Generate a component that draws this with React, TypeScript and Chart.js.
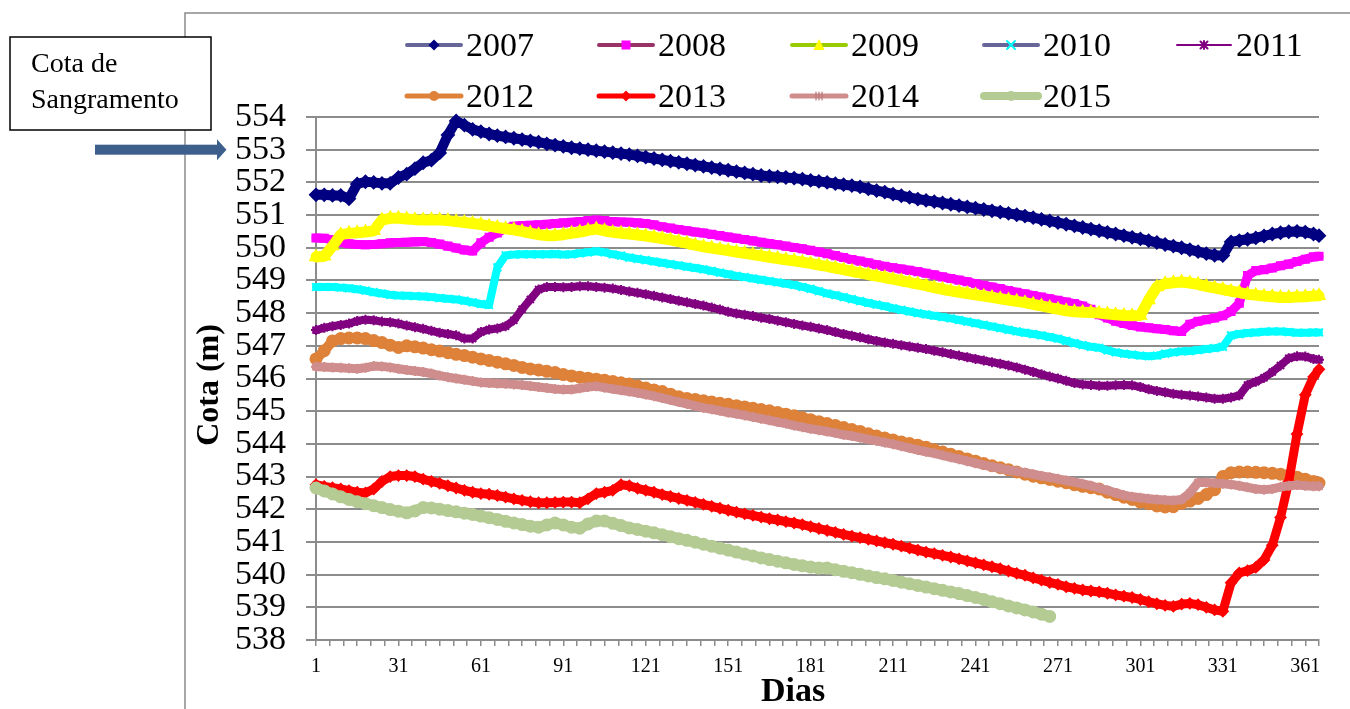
import { useEffect, useRef } from "react";
import { Chart, registerables } from "chart.js";

Chart.register(...registerables);

// Day of the year at which each reservoir level was sampled
const DAYS = [
  1, 4, 7, 10, 13, 16, 19, 22, 25, 28,
  31, 34, 37, 40, 43, 46, 49, 52, 55, 58,
  61, 64, 67, 70, 73, 76, 79, 82, 85, 88,
  91, 94, 97, 100, 103, 106, 109, 112, 115, 118,
  121, 124, 127, 130, 133, 136, 139, 142, 145, 148,
  151, 154, 157, 160, 163, 166, 169, 172, 175, 178,
  181, 184, 187, 190, 193, 196, 199, 202, 205, 208,
  211, 214, 217, 220, 223, 226, 229, 232, 235, 238,
  241, 244, 247, 250, 253, 256, 259, 262, 265, 268,
  271, 274, 277, 280, 283, 286, 289, 292, 295, 298,
  301, 304, 307, 310, 313, 316, 319, 322, 325, 328,
  331, 334, 337, 340, 343, 346, 349, 352, 355, 358,
  361, 364, 366,
];

const X_LABEL_DAYS = [1, 31, 61, 91, 121, 151, 181, 211, 241, 271, 301, 331, 361];
const Y_MIN = 538;
const Y_MAX = 554;

const YEARS = ["2007", "2008", "2009", "2010", "2011", "2012", "2013", "2014", "2015"];

// Water level (m) per year
const COTA_2007 = [
  551.62, 551.62, 551.6, 551.6, 551.5, 551.95, 552.02, 552.0, 551.97, 551.97,
  552.15, 552.25, 552.42, 552.6, 552.68, 552.9, 553.45, 553.88, 553.75, 553.62,
  553.55, 553.48, 553.43, 553.39, 553.35, 553.31, 553.27, 553.23, 553.18, 553.14,
  553.1, 553.06, 553.03, 553.0, 552.97, 552.94, 552.91, 552.88, 552.85, 552.81,
  552.77, 552.73, 552.69, 552.65, 552.61, 552.57, 552.53, 552.49, 552.45, 552.41,
  552.37, 552.33, 552.29, 552.25, 552.21, 552.19, 552.17, 552.15, 552.13, 552.1,
  552.06, 552.03, 552.0, 551.96, 551.93, 551.9, 551.86, 551.8, 551.75, 551.7,
  551.64, 551.59, 551.54, 551.49, 551.45, 551.41, 551.37, 551.33, 551.29, 551.25,
  551.21, 551.17, 551.13, 551.09, 551.05, 551.01, 550.97, 550.92, 550.87, 550.82,
  550.77, 550.72, 550.67, 550.62, 550.57, 550.52, 550.47, 550.42, 550.37, 550.32,
  550.27, 550.22, 550.16, 550.1, 550.05, 550.0, 549.94, 549.88, 549.82, 549.77,
  549.76, 550.18, 550.22, 550.26, 550.3, 550.36, 550.42, 550.46, 550.49, 550.5,
  550.48, 550.42, 550.37,
];

const COTA_2008 = [
  550.3, 550.29, 550.24, 550.16, 550.12, 550.1, 550.09, 550.1, 550.12, 550.15,
  550.16, 550.17, 550.18, 550.19, 550.16, 550.11, 550.05, 549.99, 549.93, 549.9,
  550.15, 550.32, 550.45, 550.6, 550.66, 550.68, 550.69, 550.7, 550.72, 550.74,
  550.76, 550.78, 550.8, 550.83, 550.85, 550.83, 550.8, 550.79, 550.78, 550.76,
  550.74, 550.7, 550.64, 550.6, 550.56, 550.52, 550.48, 550.45, 550.41, 550.37,
  550.33, 550.29, 550.25, 550.21, 550.17, 550.13, 550.09, 550.05, 550.01, 549.97,
  549.92, 549.87, 549.82, 549.76, 549.7, 549.64, 549.59, 549.54, 549.48, 549.43,
  549.39, 549.35, 549.31, 549.27, 549.22, 549.17, 549.11, 549.06, 549.01, 548.96,
  548.9, 548.85, 548.8, 548.75, 548.69, 548.64, 548.59, 548.54, 548.49, 548.44,
  548.39, 548.34, 548.29, 548.22, 548.12, 547.95, 547.85, 547.75, 547.68, 547.62,
  547.58, 547.55, 547.52, 547.5, 547.46, 547.44, 547.66, 547.75, 547.8, 547.85,
  547.92, 548.05, 548.3, 549.15, 549.3, 549.33, 549.38, 549.45, 549.5, 549.58,
  549.65, 549.72, 549.74,
];

const COTA_2009 = [
  549.72, 549.74, 550.05, 550.4, 550.44, 550.46, 550.48, 550.52, 550.85, 550.9,
  550.9, 550.88, 550.86, 550.85, 550.86, 550.85, 550.83, 550.8, 550.77, 550.74,
  550.71, 550.66, 550.62, 550.58, 550.55, 550.5, 550.45, 550.4, 550.37, 550.37,
  550.4, 550.44, 550.48, 550.53, 550.57, 550.52, 550.47, 550.44, 550.42, 550.39,
  550.36, 550.32, 550.28, 550.24, 550.19, 550.14, 550.08, 550.03, 549.99, 549.95,
  549.91, 549.87, 549.83, 549.79, 549.75, 549.71, 549.67, 549.63, 549.6, 549.56,
  549.52, 549.47, 549.43, 549.38, 549.33, 549.28, 549.23, 549.18, 549.13, 549.09,
  549.04, 548.99, 548.94, 548.89, 548.84, 548.78, 548.73, 548.68, 548.64, 548.6,
  548.56, 548.52, 548.48, 548.44, 548.4, 548.36, 548.32, 548.27, 548.22, 548.17,
  548.12, 548.07, 548.04, 548.03, 548.02, 548.0, 547.97, 547.95, 547.93, 547.92,
  547.93, 548.4, 548.8, 548.9, 548.93, 548.95, 548.92, 548.88, 548.82, 548.77,
  548.72, 548.67, 548.63, 548.58, 548.55, 548.52, 548.5, 548.48, 548.48, 548.49,
  548.5, 548.52, 548.53,
];

const COTA_2010 = [
  548.8, 548.8, 548.8, 548.78, 548.76, 548.73, 548.69, 548.64, 548.6, 548.56,
  548.54, 548.53, 548.52, 548.51, 548.49, 548.46, 548.44, 548.42, 548.38, 548.33,
  548.28, 548.25, 549.4, 549.77, 549.79, 549.8, 549.8, 549.8, 549.8, 549.81,
  549.79, 549.8, 549.83, 549.86, 549.89, 549.86, 549.8, 549.76, 549.7, 549.66,
  549.62, 549.58, 549.54, 549.5, 549.46, 549.42, 549.38, 549.34, 549.29, 549.24,
  549.19, 549.14, 549.1, 549.06, 549.02, 548.98, 548.94, 548.9, 548.86, 548.8,
  548.74, 548.67, 548.6, 548.55, 548.49, 548.43, 548.37, 548.31, 548.26, 548.21,
  548.15, 548.1, 548.05, 548.0, 547.96, 547.92, 547.88, 547.84, 547.79, 547.74,
  547.69, 547.64, 547.59, 547.54, 547.49, 547.44, 547.4, 547.36, 547.32, 547.27,
  547.22, 547.15, 547.08, 547.02, 546.97, 546.94, 546.86, 546.8, 546.76, 546.73,
  546.7, 546.68, 546.7, 546.76, 546.8, 546.83, 546.84, 546.87, 546.9, 546.93,
  546.97, 547.32, 547.36, 547.39, 547.41, 547.43, 547.44, 547.44, 547.42, 547.4,
  547.4, 547.41, 547.41,
];

const COTA_2011 = [
  547.48, 547.55, 547.6, 547.64, 547.68, 547.76, 547.8, 547.78, 547.74, 547.72,
  547.68, 547.62, 547.57, 547.52, 547.46, 547.4, 547.36, 547.32, 547.22, 547.22,
  547.42, 547.5, 547.53, 547.6, 547.78, 548.12, 548.42, 548.72, 548.8, 548.8,
  548.79, 548.8, 548.82, 548.82, 548.8, 548.78, 548.75, 548.71, 548.66, 548.62,
  548.58, 548.53, 548.48, 548.43, 548.38, 548.33, 548.28, 548.23, 548.17, 548.11,
  548.04, 547.99, 547.95, 547.91, 547.86, 547.82, 547.77, 547.72, 547.67, 547.62,
  547.58, 547.53, 547.48, 547.42, 547.36, 547.31, 547.26, 547.2, 547.15, 547.1,
  547.06, 547.02, 546.98, 546.94, 546.9, 546.85, 546.8, 546.75, 546.7, 546.65,
  546.6, 546.55, 546.5, 546.45, 546.4, 546.34, 546.27, 546.2, 546.13, 546.06,
  546.0, 545.93, 545.86, 545.82, 545.8, 545.78, 545.78, 545.79, 545.8, 545.79,
  545.74, 545.67, 545.62, 545.58, 545.53, 545.5, 545.48, 545.45, 545.42, 545.38,
  545.38, 545.42, 545.48, 545.8, 545.9, 546.02, 546.2, 546.4, 546.62, 546.68,
  546.67, 546.6, 546.57,
];

const COTA_2012 = [
  546.6, 546.85, 547.15, 547.22, 547.24, 547.24, 547.22, 547.16, 547.1, 547.02,
  546.95, 547.0, 546.97, 546.93, 546.88, 546.84, 546.79, 546.74, 546.7, 546.65,
  546.6, 546.55, 546.5, 546.45, 546.4, 546.34, 546.29, 546.26, 546.22, 546.18,
  546.12, 546.08, 546.04, 546.01, 545.98, 545.95, 545.91, 545.87, 545.83, 545.77,
  545.71, 545.65, 545.6, 545.52, 545.44, 545.39, 545.36, 545.32, 545.28, 545.24,
  545.21, 545.17, 545.13, 545.09, 545.05, 545.01, 544.96, 544.91, 544.86, 544.8,
  544.74, 544.68, 544.62, 544.56, 544.5, 544.44, 544.38, 544.31, 544.24, 544.18,
  544.12, 544.06, 544.01, 543.96, 543.9, 543.82, 543.75, 543.68, 543.61, 543.54,
  543.47, 543.4, 543.33, 543.27, 543.21, 543.14, 543.07, 543.01, 542.96, 542.91,
  542.86, 542.81, 542.75, 542.7, 542.66, 542.62, 542.52, 542.45, 542.37, 542.3,
  542.22, 542.17, 542.1, 542.07, 542.08, 542.18, 542.25, 542.33, 542.45, 542.6,
  543.0, 543.12, 543.14, 543.14, 543.13, 543.12, 543.1, 543.07, 543.04, 542.98,
  542.92, 542.85, 542.8,
];

const COTA_2013 = [
  542.75, 542.7, 542.66, 542.62, 542.57, 542.52, 542.5, 542.62, 542.85, 543.0,
  543.03, 543.03, 543.0, 542.92, 542.85, 542.79, 542.72, 542.65, 542.58, 542.52,
  542.48, 542.46, 542.42, 542.37, 542.32, 542.27, 542.23, 542.2, 542.2, 542.21,
  542.22, 542.22, 542.2, 542.32, 542.48, 542.52, 542.58, 542.75, 542.72, 542.64,
  542.58, 542.52, 542.45, 542.39, 542.33, 542.27, 542.21, 542.15, 542.09, 542.03,
  541.97, 541.91, 541.86, 541.81, 541.76, 541.71, 541.67, 541.62, 541.58, 541.53,
  541.47, 541.41, 541.35, 541.29, 541.23, 541.18, 541.13, 541.08, 541.03, 540.98,
  540.93, 540.87, 540.81, 540.75, 540.69, 540.64, 540.59, 540.54, 540.48, 540.42,
  540.36, 540.3, 540.24, 540.18, 540.11, 540.04, 539.98, 539.9, 539.83, 539.76,
  539.7, 539.63, 539.58, 539.53, 539.5, 539.47, 539.43, 539.38, 539.34, 539.3,
  539.24, 539.17, 539.11, 539.06, 539.03, 539.1, 539.12, 539.08, 539.0, 538.92,
  538.88, 539.75, 540.05, 540.12, 540.22, 540.45, 540.9, 541.75, 542.85, 544.3,
  545.5, 546.05, 546.28,
];

const COTA_2014 = [
  546.36, 546.35, 546.34, 546.33, 546.31, 546.3, 546.33, 546.38, 546.37, 546.34,
  546.3, 546.26, 546.23, 546.2, 546.15, 546.09, 546.04, 546.0, 545.96, 545.92,
  545.88, 545.86, 545.85, 545.84, 545.82, 545.8, 545.77, 545.74, 545.71, 545.68,
  545.66, 545.66, 545.7, 545.74, 545.76, 545.72, 545.68, 545.64, 545.6, 545.56,
  545.51, 545.46, 545.4, 545.34, 545.28, 545.22, 545.16, 545.1, 545.06, 545.01,
  544.96, 544.92, 544.87, 544.82, 544.77, 544.72, 544.67, 544.62, 544.56, 544.51,
  544.46, 544.42, 544.38, 544.33, 544.28, 544.24, 544.19, 544.14, 544.09, 544.04,
  543.99, 543.93, 543.87, 543.81, 543.76, 543.71, 543.65, 543.59, 543.53, 543.47,
  543.41, 543.35, 543.3, 543.25, 543.2, 543.16, 543.12, 543.07, 543.02, 542.98,
  542.93, 542.88, 542.83, 542.78, 542.72, 542.65, 542.58, 542.5, 542.43, 542.38,
  542.35, 542.32, 542.3, 542.28, 542.27, 542.3, 542.5, 542.82, 542.82, 542.8,
  542.78, 542.76, 542.72, 542.67, 542.62, 542.6, 542.62, 542.68, 542.72, 542.74,
  542.72, 542.7, 542.7,
];

// 2015 record stops at day 268
const COTA_2015 = [
  542.65, 542.56, 542.47, 542.38, 542.3, 542.23, 542.17, 542.11, 542.05, 541.99,
  541.94, 541.89, 541.95, 542.05, 542.04, 542.0, 541.96, 541.92, 541.88, 541.84,
  541.79, 541.74, 541.69, 541.63, 541.58, 541.53, 541.48, 541.45, 541.52, 541.58,
  541.52, 541.45, 541.42, 541.55, 541.64, 541.64, 541.57, 541.5, 541.43, 541.38,
  541.33, 541.28, 541.22, 541.16, 541.1, 541.05, 540.99, 540.93, 540.87, 540.81,
  540.75, 540.69, 540.63, 540.57, 540.51, 540.46, 540.41, 540.36, 540.31, 540.27,
  540.23, 540.2, 540.2, 540.15, 540.1, 540.06, 540.01, 539.96, 539.91, 539.87,
  539.82, 539.77, 539.72, 539.67, 539.62, 539.57, 539.52, 539.47, 539.42, 539.36,
  539.3, 539.24, 539.17, 539.11, 539.04, 538.98, 538.92, 538.86, 538.79, 538.72,
];

const SERIES = [COTA_2007, COTA_2008, COTA_2009, COTA_2010, COTA_2011, COTA_2012, COTA_2013, COTA_2014, COTA_2015];

// Styling per year
const TRACE_COLORS = ["#000080", "#FF00FF", "#FFFF00", "#00FFFF", "#800080", "#DE8139", "#FF0000", "#CF8D8D", "#B4CB94"];
const LEGEND_LINE_COLORS = ["#666699", "#993366", "#99CC00", "#666699", "#800080", "#DE8139", "#FF0000", "#CF8D8D", "#B4CB94"];
const POINT_STYLES = ["rectRot", "rect", "triangle", "crossRot", "star", "circle", "rectRot", "star", "circle"];
const LEGEND_MARKERS = ["diamond", "square", "triangle", "x", "star", "circle", "diamond", "bars", "circle"];
const TRACE_WIDTHS = [10, 9, 11, 8, 8, 10, 9, 9, 11];
const POINT_RADII = [6, 5, 6.5, 5.5, 5, 5.5, 5, 5, 5.5];
const LEGEND_LINE_WIDTHS = [4, 4, 4, 4, 2, 5, 5, 5, 8];

const GRID_COLOR = "#8c8c8c";
const SERIF = "'Liberation Serif', 'Times New Roman', serif";
const TICK_DAYS = Array.from({ length: 74 }, (_, i) => 1 + 5 * i);

function drawLegendMarker(ctx: CanvasRenderingContext2D, kind: string, x: number, y: number, color: string) {
  ctx.save();
  ctx.fillStyle = color;
  ctx.strokeStyle = color;
  ctx.lineWidth = 2;
  ctx.beginPath();
  if (kind === "diamond") {
    ctx.moveTo(x, y - 5.5);
    ctx.lineTo(x + 5.5, y);
    ctx.lineTo(x, y + 5.5);
    ctx.lineTo(x - 5.5, y);
    ctx.closePath();
    ctx.fill();
  } else if (kind === "square") {
    ctx.fillRect(x - 4.5, y - 4.5, 9, 9);
  } else if (kind === "triangle") {
    ctx.moveTo(x, y - 6);
    ctx.lineTo(x + 5.5, y + 5);
    ctx.lineTo(x - 5.5, y + 5);
    ctx.closePath();
    ctx.fill();
  } else if (kind === "x") {
    ctx.moveTo(x - 4, y - 4);
    ctx.lineTo(x + 4, y + 4);
    ctx.moveTo(x + 4, y - 4);
    ctx.lineTo(x - 4, y + 4);
    ctx.stroke();
  } else if (kind === "star") {
    ctx.moveTo(x - 3.5, y - 3.5);
    ctx.lineTo(x + 3.5, y + 3.5);
    ctx.moveTo(x + 3.5, y - 3.5);
    ctx.lineTo(x - 3.5, y + 3.5);
    ctx.moveTo(x, y - 4);
    ctx.lineTo(x, y + 4);
    ctx.stroke();
  } else if (kind === "bars") {
    ctx.lineWidth = 1.2;
    for (const dx of [-3, 0, 3]) {
      ctx.moveTo(x + dx, y - 4);
      ctx.lineTo(x + dx, y + 4);
    }
    ctx.strokeStyle = "#B87878";
    ctx.stroke();
  } else if (kind === "circle") {
    ctx.arc(x, y, 5, 0, Math.PI * 2);
    ctx.fill();
  }
  ctx.restore();
}

const decorPlugin = {
  id: "decor",
  beforeDraw(chart: Chart) {
    const ctx = chart.ctx;
    ctx.save();
    ctx.fillStyle = "#ffffff";
    ctx.fillRect(0, 0, chart.width, chart.height);
    // chart frame
    ctx.strokeStyle = "#8a8a8a";
    ctx.lineWidth = 1.5;
    ctx.beginPath();
    ctx.moveTo(185, chart.height);
    ctx.lineTo(185, 13);
    ctx.lineTo(chart.width, 13);
    ctx.stroke();
    ctx.restore();
  },
  afterDraw(chart: Chart) {
    const ctx = chart.ctx;
    ctx.save();

    // legend, two rows
    const cols = [406, 598, 791, 983, 1176];
    const rows = [45, 96];
    YEARS.forEach((year, i) => {
      const x = cols[i % 5];
      const y = rows[Math.floor(i / 5)];
      ctx.beginPath();
      ctx.lineCap = "round";
      ctx.strokeStyle = LEGEND_LINE_COLORS[i];
      ctx.lineWidth = LEGEND_LINE_WIDTHS[i];
      ctx.moveTo(x + 1, y);
      ctx.lineTo(x + 55, y);
      ctx.stroke();
      drawLegendMarker(ctx, LEGEND_MARKERS[i], x + 28, y, TRACE_COLORS[i]);
      ctx.fillStyle = "#000";
      ctx.font = `34px ${SERIF}`;
      ctx.textAlign = "left";
      ctx.textBaseline = "alphabetic";
      ctx.fillText(year, x + 60, y + 11);
    });

    // axis titles
    ctx.fillStyle = "#000";
    ctx.font = `bold 34px ${SERIF}`;
    ctx.textAlign = "center";
    ctx.textBaseline = "middle";
    ctx.fillText("Dias", 793, 692);
    ctx.save();
    ctx.translate(210, 385);
    ctx.rotate(-Math.PI / 2);
    ctx.font = `bold 32px ${SERIF}`;
    ctx.fillText("Cota (m)", 0, 0);
    ctx.restore();

    // spillway level note with arrow
    ctx.fillStyle = "#ffffff";
    ctx.fillRect(10, 37, 201, 93);
    ctx.strokeStyle = "#000";
    ctx.lineWidth = 1.5;
    ctx.strokeRect(10, 37, 201, 93);
    ctx.fillStyle = "#000";
    ctx.font = `28px ${SERIF}`;
    ctx.textAlign = "left";
    ctx.textBaseline = "alphabetic";
    ctx.fillText("Cota de", 31, 72);
    ctx.fillText("Sangramento", 31, 108);

    const yArrow = chart.scales.y.getPixelForValue(553);
    ctx.fillStyle = "#3C5F8C";
    ctx.fillRect(95, yArrow - 5, 123, 10);
    ctx.beginPath();
    ctx.moveTo(217, yArrow - 10.5);
    ctx.lineTo(226.5, yArrow);
    ctx.lineTo(217, yArrow + 10.5);
    ctx.closePath();
    ctx.fill();

    ctx.restore();
  },
};

export default function App() {
  const canvasRef = useRef<HTMLCanvasElement | null>(null);

  useEffect(() => {
    const canvas = canvasRef.current;
    if (!canvas) return;

    const datasets = SERIES.map((values, i) => ({
      label: YEARS[i],
      data: values.map((v, k) => ({ x: DAYS[k], y: v })),
      borderColor: TRACE_COLORS[i],
      backgroundColor: TRACE_COLORS[i],
      borderWidth: TRACE_WIDTHS[i],
      borderJoinStyle: "round" as const,
      borderCapStyle: "round" as const,
      pointStyle: POINT_STYLES[i],
      pointRadius: POINT_RADII[i],
      pointBorderWidth: 2,
      pointBackgroundColor: TRACE_COLORS[i],
      pointBorderColor: TRACE_COLORS[i],
      tension: 0,
      clip: false as const,
      order: SERIES.length - i,
    }));

    const chart = new Chart(canvas, {
      type: "line",
      data: { datasets },
      options: {
        animation: false,
        responsive: false,
        devicePixelRatio: 1,
        layout: { padding: { top: 117, right: 31, left: 0, bottom: 0 } },
        plugins: {
          legend: { display: false },
          tooltip: { enabled: false },
        },
        scales: {
          x: {
            type: "linear",
            min: 1,
            max: 366,
            afterBuildTicks: (axis: any) => {
              axis.ticks = TICK_DAYS.map((v) => ({ value: v }));
            },
            afterFit: (axis: any) => {
              axis.height = 69;
            },
            ticks: {
              autoSkip: false,
              maxRotation: 0,
              padding: 9,
              color: "#000",
              font: { family: SERIF, size: 20 },
              callback: (v: any) => (X_LABEL_DAYS.includes(Number(v)) ? String(v) : ""),
            },
            grid: {
              drawOnChartArea: false,
              drawTicks: true,
              tickLength: 6,
              color: GRID_COLOR,
              lineWidth: 1.5,
            },
            border: { display: true, color: GRID_COLOR, width: 2 },
          },
          y: {
            min: Y_MIN,
            max: Y_MAX,
            afterFit: (axis: any) => {
              axis.width = 316;
            },
            ticks: {
              stepSize: 1,
              autoSkip: false,
              padding: 20,
              color: "#000",
              font: { family: SERIF, size: 34, lineHeight: 0.9 },
            },
            grid: {
              color: GRID_COLOR,
              lineWidth: 2,
              tickLength: 10,
              drawTicks: true,
            },
            border: { display: true, color: GRID_COLOR, width: 2 },
          },
        },
      },
      plugins: [decorPlugin],
    });

    return () => chart.destroy();
  }, []);

  return (
    <div style={{ position: "absolute", left: 0, top: 0, width: 1350, height: 709, background: "#fff" }}>
      <canvas ref={canvasRef} width={1350} height={709} style={{ display: "block" }} />
    </div>
  );
}
